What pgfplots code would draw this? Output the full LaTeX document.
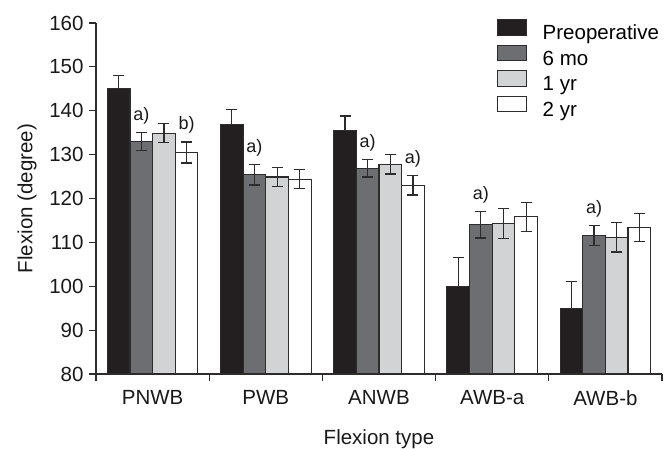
\documentclass[border=0pt]{standalone}
\usepackage{fontspec}
\setmainfont{Liberation Sans}
\usepackage{pgfplots}
\pgfplotsset{compat=1.18}
\definecolor{preop}{RGB}{35,31,32}
\definecolor{mosix}{RGB}{109,110,113}
\definecolor{yrone}{RGB}{209,211,212}
\definecolor{edge}{RGB}{45,43,44}
\begin{document}
\begin{tikzpicture}
\useasboundingbox (-96pt,-74pt) rectangle (569pt,374pt);
\begin{axis}[
  at={(0pt,0pt)}, anchor=south west,
  scale only axis, width=566pt, height=351pt,
  xmin=-0.5, xmax=4.5, ymin=80, ymax=160,
  axis lines=left, axis line style={-, line width=1.2pt, color=edge},
  tick align=outside, major tick length=7pt,
  tick style={line width=1.2pt, color=edge},
  ytick={80,90,...,160},
  xtick={-0.5,0.5,...,4.5}, xticklabels={,,,,,},
  extra x ticks={0,1,2,3,4},
  extra x tick labels={PNWB,PWB,ANWB,AWB-a,AWB-b},
  extra x tick style={major tick length=0pt, tick label style={yshift=-13pt}},
  /pgf/number format/assume math mode=true,
  tick label style={font=\fontsize{20.5}{24}\selectfont, color=black!90},
  yticklabel style={xshift=-2pt},
  every axis y label/.style={at={(rel axis cs:0,0.5)}, xshift=-69pt, rotate=90, anchor=center, inner sep=0pt},
  every axis x label/.style={at={(rel axis cs:0.5,0)}, yshift=-55.5pt, anchor=north, inner sep=0pt},
  label style={font=\fontsize{20.5}{24}\selectfont, color=black!90},
  ylabel={Flexion (degree)},
  xlabel={Flexion type},
  legend style={at={(rel axis cs:0.708,1.012)}, anchor=north west, draw=none, fill=none,
    inner sep=0pt, row sep=1pt, font=\fontsize{20.5}{24}\selectfont,
    nodes={inner sep=0pt, text height=14pt, text depth=4pt}},
  legend cell align=left,
  mybar/.style={ybar, bar width=0.2, bar shift=0, draw=edge, line width=1.1pt,
    error bars/y dir=both, error bars/y explicit,
    error bars/error bar style={line width=1.2pt, color=edge},
    error bars/error mark options={rotate=90, mark size=5.5pt, line width=1.2pt, color=edge}},
  legend image code/.code={\draw[#1,/tikz/.cd,line width=1.1pt] (0pt,-0.6pt) rectangle (29pt,15pt); \path (44.7pt,0pt);},
]
% x positions: category index + shift (-0.3, -0.1, 0.1, 0.3)
\addplot[mybar, fill=preop, error bars/y dir=plus] coordinates {
  (-0.3,145.0) +- (0,3.1)
  (0.7,136.8) +- (0,3.4)
  (1.7,135.6) +- (0,3.2)
  (2.7,100.0) +- (0,6.6)
  (3.7,95.0)  +- (0,6.0)
};
\addlegendentry{Preoperative}
\addplot[mybar, fill=mosix] coordinates {
  (-0.1,133.0) +- (0,2.0)
  (0.9,125.4) +- (0,2.3)
  (1.9,126.9) +- (0,2.0)
  (2.9,114.0) +- (0,3.0)
  (3.9,111.5) +- (0,2.3)
};
\addlegendentry{6 mo}
\addplot[mybar, fill=yrone] coordinates {
  (0.1,134.9) +- (0,2.2)
  (1.1,124.9) +- (0,2.1)
  (2.1,127.8) +- (0,2.2)
  (3.1,114.3) +- (0,3.5)
  (4.1,111.2) +- (0,3.4)
};
\addlegendentry{1 yr}
\addplot[mybar, fill=white] coordinates {
  (0.3,130.5) +- (0,2.4)
  (1.3,124.4) +- (0,2.2)
  (2.3,123.0) +- (0,2.2)
  (3.3,115.8) +- (0,3.3)
  (4.3,113.4) +- (0,3.2)
};
\addlegendentry{2 yr}
\begin{scope}[every node/.style={font=\fontsize{18}{21}\selectfont, color=black!90, anchor=south, inner sep=0pt, yshift=8pt}]
\node at (axis cs:-0.1,135.0) {a)};
\node at (axis cs:0.3,132.9) {b)};
\node at (axis cs:0.9,127.7) {a)};
\node at (axis cs:1.9,128.9) {a)};
\node at (axis cs:2.3,125.2) {a)};
\node at (axis cs:2.9,117.0) {a)};
\node at (axis cs:3.9,113.8) {a)};
\end{scope}
\end{axis}
\end{tikzpicture}
\end{document}
